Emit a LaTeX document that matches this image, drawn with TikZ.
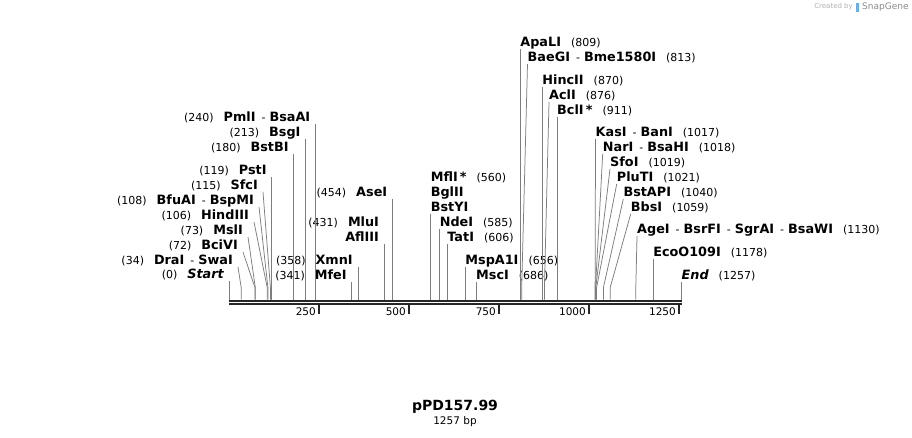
\documentclass[tikz,border=0pt]{standalone}
\usepackage{fontspec}
\setmainfont{DejaVu Sans}
\usetikzlibrary{positioning}

\definecolor{cutgray}{RGB}{125,125,125}
\definecolor{seqdark}{RGB}{38,38,38}
\newcommand{\bpn}[1]{{\fontsize{11}{13}\selectfont(#1)}}
\newcommand{\enz}[1]{{\bfseries #1}}
\newcommand{\dsh}{\hspace{6pt}{\fontsize{11}{13}\selectfont -}\hspace{4pt}}
\newcommand{\gapn}{\hspace{10pt}}

\begin{document}
\begin{tikzpicture}[x=1pt,y=-1pt,
  lblL/.style={anchor=south east,inner xsep=5pt,inner ysep=0pt,text height=9.5pt,text depth=2.5pt,font=\fontsize{12.8}{15}\selectfont},
  lblR/.style={anchor=south west,inner xsep=0pt,inner ysep=0pt,text height=9.5pt,text depth=2.5pt,font=\fontsize{12.8}{15}\selectfont},
  cut/.style={draw=cutgray,line width=0.75pt},
  seq/.style={draw=seqdark,line width=2pt},
  tick/.style={draw=seqdark,line width=1.6pt},
  ticklbl/.style={anchor=east,inner sep=0pt,font=\fontsize{10.5}{12}\selectfont}]
\fill[white] (0,0) rectangle (912,438);

% Sequence line and scale
\draw[seq] (229,300.5) -- (682,300.5);
\draw[seq] (229,304) -- (682,304);
\draw[tick] (319,304) -- (319,314);
\draw[tick] (409,304) -- (409,314);
\draw[tick] (499,304) -- (499,314);
\draw[tick] (589,304) -- (589,314);
\draw[tick] (679,304) -- (679,314);
\node[ticklbl] (t250) at (316,312) {250};
\node[ticklbl] (t500) at (406,312) {500};
\node[ticklbl] (t750) at (496,312) {750};
\node[ticklbl] (t1000) at (586,312) {1000};
\node[ticklbl] (t1250) at (676,312) {1250};

% Cut sites on the sequence
\coordinate (s0) at (229,299.5);
\coordinate (s34) at (241.2,299.5);
\coordinate (s72) at (254.9,299.5);
\coordinate (s73) at (255.3,299.5);
\coordinate (s106) at (267.2,299.5);
\coordinate (s108) at (267.9,299.5);
\coordinate (s115) at (270.4,299.5);
\coordinate (s119) at (271.8,299.5);
\coordinate (s180) at (293.8,299.5);
\coordinate (s213) at (305.7,299.5);
\coordinate (s240) at (315.4,299.5);
\coordinate (s341) at (351.8,299.5);
\coordinate (s358) at (357.9,299.5);
\coordinate (s431) at (384.2,299.5);
\coordinate (s454) at (392.4,299.5);
\coordinate (s560) at (430.6,299.5);
\coordinate (s585) at (439.6,299.5);
\coordinate (s606) at (447.2,299.5);
\coordinate (s656) at (465.2,299.5);
\coordinate (s686) at (476.0,299.5);
\coordinate (s809) at (520.2,299.5);
\coordinate (s813) at (521.7,299.5);
\coordinate (s870) at (542.2,299.5);
\coordinate (s876) at (544.4,299.5);
\coordinate (s911) at (557.0,299.5);
\coordinate (s1017) at (595.1,299.5);
\coordinate (s1018) at (595.5,299.5);
\coordinate (s1019) at (595.8,299.5);
\coordinate (s1021) at (596.6,299.5);
\coordinate (s1040) at (603.4,299.5);
\coordinate (s1059) at (610.2,299.5);
\coordinate (s1130) at (635.8,299.5);
\coordinate (s1178) at (653.1,299.5);
\coordinate (s1257) at (681.5,299.5);

% Left labels
\node[lblL] (start) at (229,281) {\bpn{0}\gapn{\bfseries\itshape Start}};
\node[lblL] (draI) at (238,267) {\bpn{34}\gapn\enz{DraI}\dsh\enz{SwaI}};
\node[lblL] (bciVI) at (243,252) {\bpn{72}\gapn\enz{BciVI}};
\node[lblL] (mslI) at (248,237) {\bpn{73}\gapn\enz{MslI}};
\node[lblL] (hindIII) at (254,222) {\bpn{106}\gapn\enz{HindIII}};
\node[lblL] (bfuAI) at (259,207) {\bpn{108}\gapn\enz{BfuAI}\dsh\enz{BspMI}};
\node[lblL] (sfcI) at (263,192) {\bpn{115}\gapn\enz{SfcI}};
\node[lblL] (pstI) at (271.8,177) {\bpn{119}\gapn\enz{PstI}};
\node[lblL] (bstBI) at (293.8,154) {\bpn{180}\gapn\enz{BstBI}};
\node[lblL] (bsgI) at (305.7,139) {\bpn{213}\gapn\enz{BsgI}};
\node[lblL] (pmlI) at (315.4,124) {\bpn{240}\gapn\enz{PmlI}\dsh\enz{BsaAI}};

% Middle labels
\node[lblL] (mfeI) at (351.8,282) {\bpn{341}\gapn\enz{MfeI}};
\node[lblL] (xmnI) at (357.9,267) {\bpn{358}\gapn\enz{XmnI}};
\node[lblL] (aflIII) at (384.2,244) {\enz{AflIII}};
\node[lblL] (mluI) at (384.2,229) {\bpn{431}\gapn\enz{MluI}};
\node[lblL] (aseI) at (392.4,199) {\bpn{454}\gapn\enz{AseI}};
\node[lblR] (mflI) at (430.6,184) {\enz{MflI\,*}\gapn\bpn{560}};
\node[lblR] (bglII) at (430.6,199) {\enz{BglII}};
\node[lblR] (bstYI) at (430.6,214) {\enz{BstYI}};
\node[lblR] (ndeI) at (439.6,229) {\enz{NdeI}\gapn\bpn{585}};
\node[lblR] (tatI) at (447.2,244) {\enz{TatI}\gapn\bpn{606}};
\node[lblR] (mspA1I) at (465.2,267) {\enz{MspA1I}\gapn\bpn{656}};
\node[lblR] (mscI) at (476,282) {\enz{MscI}\gapn\bpn{686}};

% Right labels
\node[lblR] (apaLI) at (520.2,49) {\enz{ApaLI}\gapn\bpn{809}};
\node[lblR] (baeGI) at (527.5,64) {\enz{BaeGI}\dsh\enz{Bme1580I}\gapn\bpn{813}};
\node[lblR] (hincII) at (542.2,87) {\enz{HincII}\gapn\bpn{870}};
\node[lblR] (aclI) at (549,102) {\enz{AclI}\gapn\bpn{876}};
\node[lblR] (bclI) at (557,117) {\enz{BclI\,*}\gapn\bpn{911}};
\node[lblR] (kasI) at (595.5,139) {\enz{KasI}\dsh\enz{BanI}\gapn\bpn{1017}};
\node[lblR] (narI) at (602.7,154) {\enz{NarI}\dsh\enz{BsaHI}\gapn\bpn{1018}};
\node[lblR] (sfoI) at (610,169) {\enz{SfoI}\gapn\bpn{1019}};
\node[lblR] (pluTI) at (616.7,184) {\enz{PluTI}\gapn\bpn{1021}};
\node[lblR] (bstAPI) at (623.3,199) {\enz{BstAPI}\gapn\bpn{1040}};
\node[lblR] (bbsI) at (630.7,214) {\enz{BbsI}\gapn\bpn{1059}};
\node[lblR] (ageI) at (637,236) {\enz{AgeI}\dsh\enz{BsrFI}\dsh\enz{SgrAI}\dsh\enz{BsaWI}\gapn\bpn{1130}};
\node[lblR] (ecoO109I) at (653.1,259) {\enz{EcoO109I}\gapn\bpn{1178}};
\node[lblR] (lend) at (681.5,282) {{\bfseries\itshape End}\gapn\bpn{1257}};

% Connectors
\draw[cut] (start.south east) -- (s0);
\draw[cut] (draI.south east) -- ([yshift=12pt]s34) -- (s34);
\draw[cut] (bciVI.south east) -- ([yshift=12pt]s72) -- (s72);
\draw[cut] (mslI.south east) -- ([yshift=12pt]s73) -- (s73);
\draw[cut] (hindIII.south east) -- ([yshift=12pt]s106) -- (s106);
\draw[cut] (bfuAI.south east) -- ([yshift=12pt]s108) -- (s108);
\draw[cut] (sfcI.south east) -- ([yshift=12pt]s115) -- (s115);
\draw[cut] (pstI.south east) -- (s119);
\draw[cut] (bstBI.south east) -- (s180);
\draw[cut] (bsgI.south east) -- (s213);
\draw[cut] (pmlI.south east) -- (s240);
\draw[cut] (mfeI.south east) -- (s341);
\draw[cut] (xmnI.south east) -- (s358);
\draw[cut] (aflIII.south east) -- (s431);
\draw[cut] (aseI.south east) -- (s454);
\draw[cut] (bstYI.south west) -- (s560);
\draw[cut] (ndeI.south west) -- (s585);
\draw[cut] (tatI.south west) -- (s606);
\draw[cut] (mspA1I.south west) -- (s656);
\draw[cut] (mscI.south west) -- (s686);
\draw[cut] (apaLI.south west) -- (s809);
\draw[cut] (baeGI.south west) -- ([yshift=12pt]s813) -- (s813);
\draw[cut] (hincII.south west) -- (s870);
\draw[cut] (aclI.south west) -- ([yshift=12pt]s876) -- (s876);
\draw[cut] (bclI.south west) -- (s911);
\draw[cut] (kasI.south west) -- ([yshift=12pt]s1017) -- (s1017);
\draw[cut] (narI.south west) -- ([yshift=12pt]s1018) -- (s1018);
\draw[cut] (sfoI.south west) -- ([yshift=12pt]s1019) -- (s1019);
\draw[cut] (pluTI.south west) -- ([yshift=12pt]s1021) -- (s1021);
\draw[cut] (bstAPI.south west) -- ([yshift=12pt]s1040) -- (s1040);
\draw[cut] (bbsI.south west) -- ([yshift=12pt]s1059) -- (s1059);
\draw[cut] (ageI.south west) -- ([yshift=12pt]s1130) -- (s1130);
\draw[cut] (ecoO109I.south west) -- (s1178);
\draw[cut] (lend.south west) -- (s1257);

% Title
\node[font=\fontsize{14}{16}\selectfont\bfseries] (title) at (455,407) {pPD157.99};
\node[font=\fontsize{10.5}{12}\selectfont] (size) at (455,422) {1257 bp};

% Watermark
\node[anchor=east,inner sep=0pt,text=black!30,font=\fontsize{7}{8}\selectfont] (made) at (853,7) {Created by};
\fill[cyan!70!blue!60] (856,3) rectangle (859,12);
\node[anchor=west,inner sep=0pt,text=black!45,font=\fontsize{9}{10}\selectfont] (snap) at (862,7) {SnapGene};
\end{tikzpicture}
\end{document}
